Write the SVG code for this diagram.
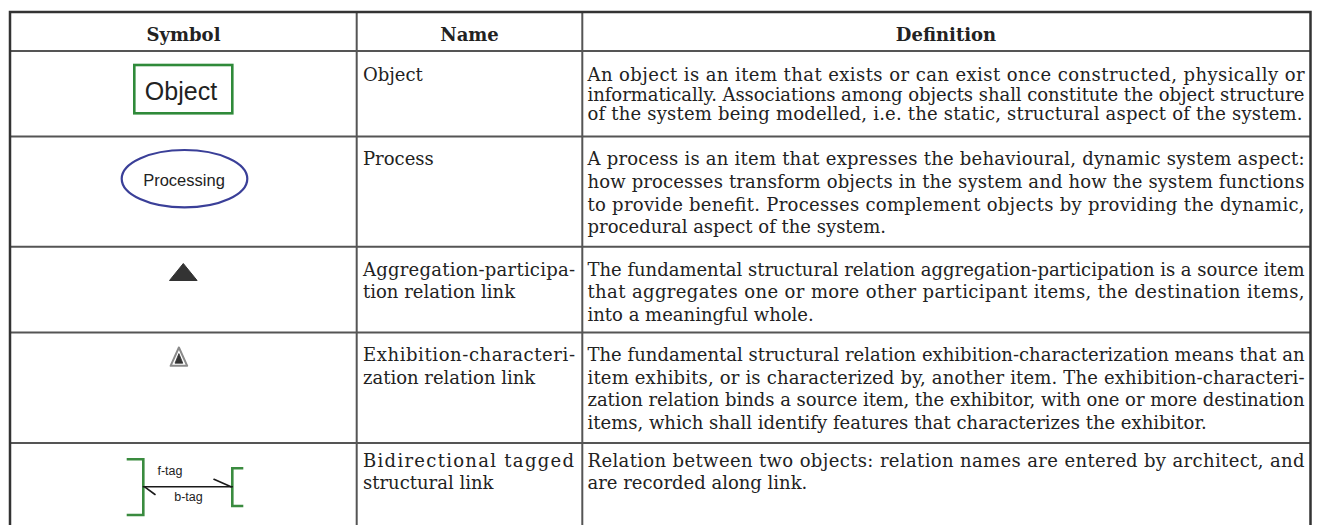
<svg xmlns="http://www.w3.org/2000/svg" width="1319" height="525" viewBox="0 0 1319 525">
  <style>
    .t { font-family: "DejaVu Serif", "Liberation Serif", serif; font-size: 18px; fill: #222; }
    .h { font-weight: bold; text-anchor: middle; }
    .sym { font-family: "Liberation Sans", Arial, sans-serif; fill: #222; text-anchor: middle; }
    .rule { stroke: #555; stroke-width: 2; fill: none; }
    .frame { stroke: #333; stroke-width: 2.5; fill: none; }
    .green { stroke: #3a8b3f; stroke-width: 2.6; fill: none; }
  </style>

  <rect x="0" y="0" width="1319" height="525" fill="#fff"/>

  <!-- table rules -->
  <g id="grid">
    <line class="rule" x1="10" y1="51" x2="1310.5" y2="51"/>
    <line class="rule" x1="10" y1="136.5" x2="1310.5" y2="136.5"/>
    <line class="rule" x1="10" y1="246.7" x2="1310.5" y2="246.7"/>
    <line class="rule" x1="10" y1="332.5" x2="1310.5" y2="332.5"/>
    <line class="rule" x1="10" y1="443" x2="1310.5" y2="443"/>
    <line class="rule" x1="356.7" y1="12" x2="356.7" y2="525"/>
    <line class="rule" x1="582.3" y1="12" x2="582.3" y2="525"/>
    <path class="frame" d="M10 525 V12 H1310.5 V525"/>
  </g>

  <!-- header -->
  <g id="header" class="t h">
    <text x="183.5" y="40.5">Symbol</text>
    <text x="469.5" y="40.5">Name</text>
    <text x="946" y="40.5">Definition</text>
  </g>

  <!-- row: object -->
  <g id="row-object">
    <rect x="134.3" y="65" width="98" height="48.3" fill="#fff" stroke="#2f8a3a" stroke-width="2.6"/>
    <text class="sym" x="181" y="100" font-size="25">Object</text>
    <text class="t" x="363" y="81">Object</text>
    <g class="t">
      <text x="587.5" y="81" textLength="717" lengthAdjust="spacing">An object is an item that exists or can exist once constructed, physically or</text>
      <text x="587.5" y="100.5" textLength="717" lengthAdjust="spacing">informatically. Associations among objects shall constitute the object structure</text>
      <text x="587.5" y="120" textLength="715" lengthAdjust="spacing">of the system being modelled, i.e. the static, structural aspect of the system.</text>
    </g>
  </g>

  <!-- row: process -->
  <g id="row-process">
    <ellipse cx="184.5" cy="178.7" rx="62.8" ry="28.7" fill="#fff" stroke="#3a3f98" stroke-width="2.2"/>
    <text class="sym" x="184" y="185.7" font-size="16.5">Processing</text>
    <text class="t" x="363" y="165.2">Process</text>
    <g class="t">
      <text x="587.5" y="165.2" textLength="717" lengthAdjust="spacing">A process is an item that expresses the behavioural, dynamic system aspect:</text>
      <text x="587.5" y="187.8" textLength="717" lengthAdjust="spacing">how processes transform objects in the system and how the system functions</text>
      <text x="587.5" y="210.5" textLength="717" lengthAdjust="spacing">to provide benefit. Processes complement objects by providing the dynamic,</text>
      <text x="587.5" y="233.2">procedural aspect of the system.</text>
    </g>
  </g>

  <!-- row: aggregation-participation -->
  <g id="row-aggregation">
    <polygon points="183.3,263.5 169.5,280.5 197.1,280.5" fill="#333" stroke="#333" stroke-width="1" stroke-linejoin="round"/>
    <g class="t">
      <text x="363" y="275.7" textLength="212" lengthAdjust="spacing">Aggregation-participa-</text>
      <text x="363" y="298.3">tion relation link</text>
      <text x="587.5" y="275.7" textLength="717" lengthAdjust="spacing">The fundamental structural relation aggregation-participation is a source item</text>
      <text x="587.5" y="298.3" textLength="717" lengthAdjust="spacing">that aggregates one or more other participant items, the destination items,</text>
      <text x="587.5" y="321">into a meaningful whole.</text>
    </g>
  </g>

  <!-- row: exhibition-characterization -->
  <g id="row-exhibition">
    <polygon points="178.9,347.5 170.6,365.8 187.2,365.8" fill="#fff" stroke="#8a8a8a" stroke-width="2" stroke-linejoin="round"/>
    <polygon points="178.9,353.6 175,363.2 182.8,363.2" fill="#333" stroke="#333" stroke-width="0.8" stroke-linejoin="round"/>
    <g class="t">
      <text x="363" y="360.8" textLength="212" lengthAdjust="spacing">Exhibition-characteri-</text>
      <text x="363" y="383.5">zation relation link</text>
      <text x="587.5" y="360.8" textLength="717" lengthAdjust="spacing">The fundamental structural relation exhibition-characterization means that an</text>
      <text x="587.5" y="383.5" textLength="717" lengthAdjust="spacing">item exhibits, or is characterized by, another item. The exhibition-characteri-</text>
      <text x="587.5" y="406.2" textLength="717" lengthAdjust="spacing">zation relation binds a source item, the exhibitor, with one or more destination</text>
      <text x="587.5" y="429">items, which shall identify features that characterizes the exhibitor.</text>
    </g>
  </g>

  <!-- row: bidirectional tagged structural link -->
  <g id="row-bidirectional">
    <path class="green" d="M126.7 459.3 H143.3 V515 H126.7"/>
    <path class="green" d="M243.3 468.3 H232.3 V506 H243.3"/>
    <text class="sym" x="170" y="475" font-size="12.5">f-tag</text>
    <text class="sym" x="188.5" y="500.5" font-size="12.5">b-tag</text>
    <g class="t">
      <text x="363" y="466.5" textLength="211" lengthAdjust="spacing">Bidirectional tagged</text>
      <text x="363" y="489.2">structural link</text>
      <text x="587.5" y="466.5" textLength="717" lengthAdjust="spacing">Relation between two objects: relation names are entered by architect, and</text>
      <text x="587.5" y="489.2">are recorded along link.</text>
    </g>
  </g>

  <!-- tagged link line with its two half-arrow barbs -->
  <g id="connectors" stroke="#1a1a1a" stroke-width="1.6" fill="none" stroke-linecap="round">
    <line x1="143.3" y1="486.8" x2="232.3" y2="486.8"/>
    <line x1="214" y1="479.3" x2="231" y2="486.8"/>
    <line x1="145" y1="487.2" x2="155" y2="494.5"/>
  </g>
</svg>
